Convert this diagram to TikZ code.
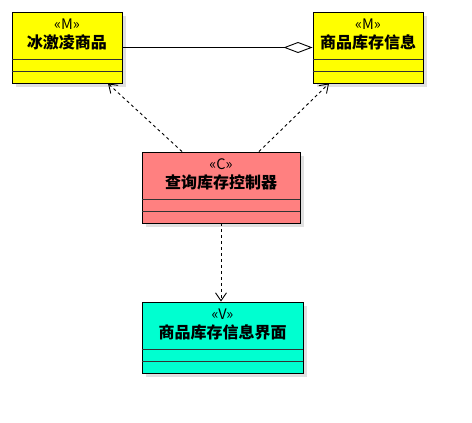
\documentclass[tikz,border=0pt]{standalone}
\usepackage{fontspec}
\setmainfont{Noto Sans CJK SC}
\usepackage{tikz}
\usetikzlibrary{arrows.meta, positioning, calc, shadows}

\begin{document}
\begin{tikzpicture}[
    x=1pt, y=-1pt,
    every node/.style={inner sep=0pt},
    umlclass/.style={
        draw=black, line width=0.9pt, minimum height=71pt,
        drop shadow={shadow xshift=4pt, shadow yshift=-4pt,
                     fill=black!12, opacity=1}
    },
    stereo/.style={font=\fontsize{14.5}{16}\selectfont},
    title/.style={font=\fontsize{16}{18}\selectfont\bfseries},
    sep/.style={draw=black!80, line width=0.9pt},
    dep/.style={draw=black, line width=0.9pt, dash pattern=on 3pt off 3pt,
        -{Straight Barb[length=8pt, width=11pt, line width=0.9pt]}},
    agg/.style={draw=black, line width=0.9pt,
        -{Diamond[open, length=29pt, width=11pt, line width=0.9pt]}}
]
\definecolor{cModel}{RGB}{255,255,0}
\definecolor{cCtrl}{RGB}{255,128,128}
\definecolor{cView}{RGB}{0,255,208}

\useasboundingbox[fill=white] (0,0) rectangle (472,423);

% Model classes
\node[umlclass, fill=cModel, minimum width=110pt] (icecream) at (67,47.5) {};
\node[stereo] (icecreamst) at ([yshift=-13pt]icecream.north) {«M»};
\node[title] (icecreamtt) at ([yshift=-31pt]icecream.north) {冰激凌商品};

\node[umlclass, fill=cModel, minimum width=110pt] (stockinfo) at (368,47.5) {};
\node[stereo] (stockinfost) at ([yshift=-13pt]stockinfo.north) {«M»};
\node[title] (stockinfott) at ([yshift=-31pt]stockinfo.north) {商品库存信息};

% Controller
\node[umlclass, fill=cCtrl, minimum width=158pt] (ctrl) at (221,187.5) {};
\node[stereo] (ctrlst) at ([yshift=-13pt]ctrl.north) {«C»};
\node[title] (ctrltt) at ([yshift=-31pt]ctrl.north) {查询库存控制器};

% View
\node[umlclass, fill=cView, minimum width=161pt] (view) at (222.5,337.5) {};
\node[stereo] (viewst) at ([yshift=-13pt]view.north) {«V»};
\node[title] (viewtt) at ([yshift=-31pt]view.north) {商品库存信息界面};

% Compartments
\foreach \cls in {icecream, stockinfo, ctrl, view} {
  \draw[sep] ($(\cls.north west)+(0,48)$) -- ($(\cls.north east)+(0,48)$);
  \draw[sep] ($(\cls.north west)+(0,59.5)$) -- ($(\cls.north east)+(0,59.5)$);
}

% Edges
\draw[agg] (icecream.east) -- (stockinfo.west);
\draw[dep] ([xshift=-39pt]ctrl.north) -- ([xshift=41pt]icecream.south);
\draw[dep] ([xshift=38pt]ctrl.north) -- ([xshift=-39pt]stockinfo.south);
\draw[dep] (ctrl.south) -- (ctrl.south |- view.north);

\end{tikzpicture}
\end{document}
